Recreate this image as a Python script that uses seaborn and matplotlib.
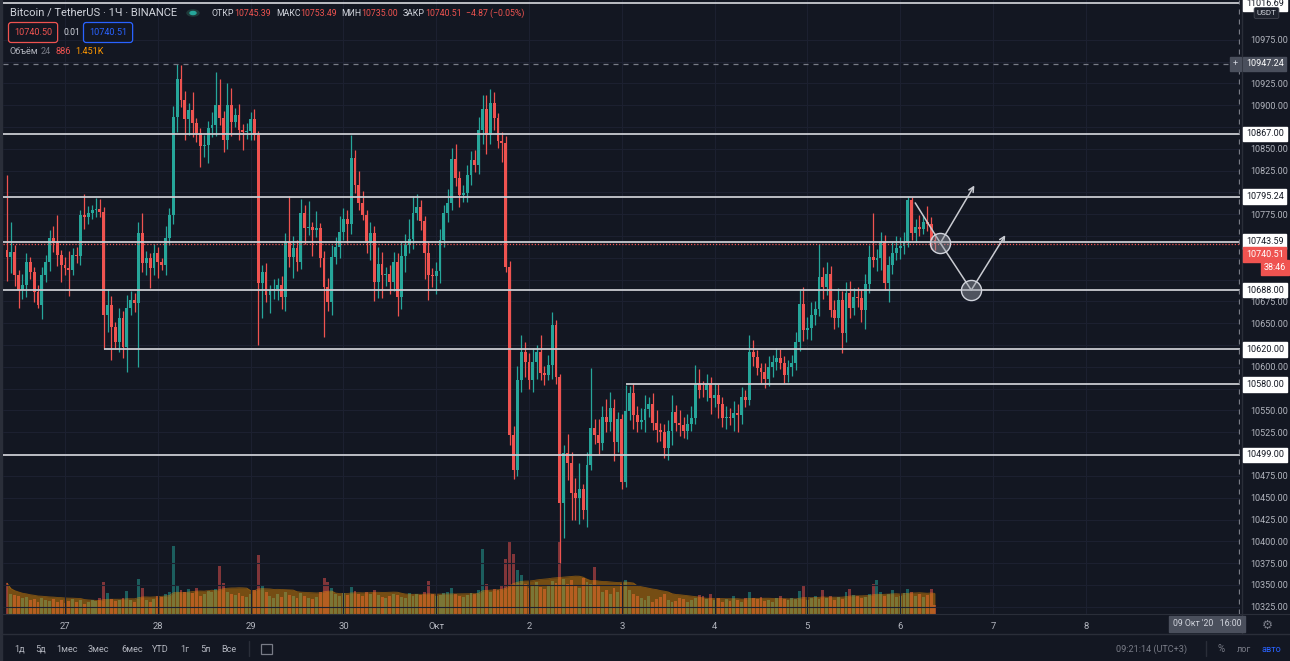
import numpy as np
import pandas as pd
import matplotlib
matplotlib.use('Agg')
import matplotlib.pyplot as plt
import matplotlib.transforms as mtrans
from matplotlib.patches import Rectangle
import seaborn as sns

# BTC/USDT 1h candles, first candle 26 Sep 09:00, last 6 Oct 09:00
first_open = 10734
close = [
    10726, 10732, 10705, 10688, 10694, 10720, 10709, 10686, 10671, 10705,
    10720, 10748, 10742, 10728, 10717, 10713, 10711, 10728, 10727, 10774,
    10772, 10776, 10780, 10781, 10778, 10660, 10671, 10646, 10629, 10656,
    10623, 10668, 10677, 10673, 10754, 10719, 10725, 10713, 10731, 10720,
    10717, 10748, 10774, 10887, 10930, 10906, 10884, 10895, 10880, 10868,
    10853, 10854, 10874, 10877, 10900, 10885, 10860, 10900, 10881, 10889,
    10872, 10869, 10870, 10884, 10866, 10696, 10709, 10682, 10688, 10689,
    10694, 10680, 10743, 10726, 10736, 10720, 10776, 10759, 10760, 10757,
    10759, 10725, 10692, 10674, 10726, 10737, 10755, 10770, 10764, 10840,
    10809, 10788, 10774, 10742, 10754, 10697, 10718, 10705, 10707, 10697,
    10720, 10680, 10727, 10740, 10747, 10776, 10783, 10767, 10731, 10705,
    10704, 10710, 10746, 10776, 10788, 10838, 10817, 10797, 10799, 10820,
    10837, 10831, 10872, 10896, 10866, 10903, 10885, 10859, 10857, 10715,
    10522, 10482, 10585, 10617, 10606, 10585, 10606, 10617, 10593, 10591,
    10602, 10648, 10588, 10444, 10501, 10490, 10455, 10450, 10460, 10436,
    10488, 10530, 10522, 10513, 10543, 10537, 10553, 10514, 10540, 10468,
    10549, 10570, 10545, 10537, 10539, 10552, 10558, 10536, 10528, 10525,
    10507, 10527, 10548, 10536, 10533, 10527, 10534, 10541, 10580, 10574,
    10573, 10580, 10564, 10568, 10557, 10541, 10543, 10541, 10547, 10545,
    10565, 10562, 10617, 10611, 10599, 10594, 10586, 10600, 10606, 10610,
    10604, 10591, 10600, 10604, 10628, 10672, 10642, 10645, 10660, 10666,
    10703, 10692, 10706, 10665, 10656, 10677, 10639, 10685, 10668, 10680,
    10679, 10665, 10695, 10726, 10722, 10725, 10743, 10696, 10717, 10731,
    10736, 10739, 10743, 10791, 10753, 10760, 10758, 10766, 10764, 10745.39,
    10740.51]
# wick length above / below the body, USD
wick_up = [
    86, 34, 8, 6, 12, 10, 6, 5, 8, 10, 8, 9, 14, 32, 6, 9, 20, 8, 10, 6,
    24, 8, 6, 13, 11, 5, 18, 10, 6, 12, 8, 14, 10, 8, 12, 22, 8, 6, 10, 6,
    5, 14, 8, 12, 17, 16, 10, 8, 20, 5, 6, 12, 8, 15, 38, 30, 8, 25, 20, 8,
    12, 6, 10, 8, 12, 4, 8, 10, 6, 12, 8, 10, 10, 53, 14, 10, 16, 10, 30, 6,
    20, 6, 8, 10, 14, 12, 18, 12, 10, 26, 9, 16, 14, 6, 12, 8, 20, 14, 8, 10,
    12, 10, 16, 12, 22, 20, 15, 8, 6, 12, 8, 10, 12, 10, 16, 13, 18, 8, 10, 12,
    10, 12, 14, 16, 16, 16, 12, 6, 10, 8, 6, 10, 16, 20, 12, 10, 16, 8, 20, 8,
    12, 15, 6, 4, 10, 22, 12, 18, 30, 6, 14, 69, 10, 18, 12, 20, 18, 10, 8, 6,
    30, 8, 12, 10, 14, 16, 8, 12, 14, 8, 10, 12, 20, 8, 14, 10, 12, 14, 22, 18,
    10, 12, 8, 14, 12, 8, 12, 10, 14, 10, 12, 8, 20, 14, 8, 6, 10, 12, 8, 12,
    10, 8, 8, 10, 12, 16, 20, 12, 14, 10, 38, 12, 14, 10, 12, 14, 10, 12, 14, 10,
    12, 10, 12, 14, 50, 10, 12, 8, 10, 12, 14, 10, 12, 4, 4, 10, 14, 8, 18, 8,
    8]
wick_dn = [
    27, 18, 12, 20, 10, 14, 8, 12, 4, 16, 8, 10, 10, 12, 20, 8, 30, 6, 8, 10,
    14, 8, 6, 8, 6, 40, 20, 38, 8, 12, 13, 29, 8, 10, 73, 10, 14, 22, 8, 18,
    6, 12, 8, 10, 18, 8, 24, 18, 16, 10, 24, 12, 20, 10, 12, 8, 14, 10, 16, 6,
    12, 20, 8, 10, 6, 71, 40, 8, 20, 10, 12, 14, 16, 12, 24, 10, 8, 18, 8, 30,
    8, 10, 58, 10, 14, 8, 12, 10, 22, 12, 10, 8, 6, 12, 20, 22, 18, 26, 12, 14,
    10, 22, 14, 18, 10, 12, 8, 10, 30, 28, 12, 20, 14, 8, 10, 8, 10, 14, 8, 10,
    12, 8, 10, 16, 22, 10, 14, 8, 22, 6, 12, 10, 7, 14, 18, 10, 14, 20, 8, 12,
    6, 16, 8, 69, 40, 20, 30, 26, 30, 10, 20, 6, 10, 14, 8, 12, 10, 22, 12, 8,
    6, 10, 16, 12, 8, 14, 10, 8, 14, 10, 11, 14, 16, 10, 12, 8, 10, 8, 6, 10,
    8, 12, 18, 10, 16, 10, 12, 8, 14, 20, 10, 8, 6, 10, 8, 12, 10, 8, 12, 10,
    6, 10, 8, 10, 8, 10, 12, 10, 14, 12, 8, 14, 10, 8, 12, 10, 23, 10, 12, 8,
    10, 14, 22, 10, 8, 12, 14, 8, 22, 10, 8, 12, 10, 6, 8, 10, 8, 6, 8, 10,
    6]
volume = [
    3100, 2000, 1900, 1800, 1600, 1700, 1400, 1500, 1200, 1600, 1400, 1300, 1500, 1200, 1400, 1100,
    1300, 1500, 1200, 1400, 1000, 1200, 1400, 1300, 1600, 3200, 2100, 1500, 1300, 1400, 1600, 2300,
    1400, 1200, 3500, 2600, 1400, 1200, 1500, 1800, 1700, 2000, 2200, 6800, 2800, 2400, 2200, 2500,
    2100, 2600, 1800, 2000, 2300, 2200, 2500, 4800, 3100, 2200, 2000, 1900, 2100, 1800, 1700, 2000,
    2400, 5900, 2800, 2200, 1800, 1600, 2000, 1700, 2200, 1900, 1800, 1600, 2100, 1800, 1600, 1500,
    1700, 2200, 3600, 3200, 2600, 2000, 1800, 2100, 1900, 2700, 2300, 2000, 1800, 2200, 2000, 2400,
    1900, 1700, 1600, 1800, 2000, 1900, 1700, 1600, 2100, 1800, 2000, 1900, 2200, 3300, 2000, 1800,
    1900, 2100, 2200, 2600, 2000, 1800, 1700, 1900, 2100, 2000, 2400, 6500, 3000, 2200, 2500, 2400,
    2800, 5500, 7200, 6000, 4400, 3900, 3000, 2600, 2800, 3200, 2700, 2500, 2900, 3300, 3100, 7200,
    3500, 3000, 3400, 2800, 2600, 3600, 3200, 3000, 4700, 2800, 2200, 2400, 2000, 2600, 2200, 3000,
    3400, 2400, 2000, 1800, 1600, 1400, 1800, 1200, 1500, 1700, 2000, 1400, 1200, 1300, 1600, 1500,
    1200, 1400, 1600, 1900, 1800, 1500, 2000, 1400, 1600, 1200, 1500, 1300, 1800, 1400, 1200, 1600,
    2200, 1600, 1500, 1700, 1300, 1400, 1200, 1600, 1800, 1500, 1400, 1600, 1500, 2300, 2800, 1400,
    1600, 1800, 1500, 2400, 1600, 1800, 1400, 1700, 1500, 2200, 2500, 1900, 1800, 1600, 1700, 2000,
    3000, 3400, 2200, 1800, 2000, 2400, 1700, 1800, 2100, 2500, 2200, 1800, 2000, 1700, 1900, 2500,
    886]

day_ticks = [0, 24, 48, 72, 96, 120, 144, 168, 192, 216, 240, 264]
day_labels = ['27', '28', '29', '30', 'Окт', '2', '3', '4', '5', '6', '7', '8']
levels = [10867.00, 10795.24, 10743.59, 10688.00, 10499.00]
partial_levels = [10620.00, 10580.00]
partial_from = [10, 145]            # hour where these lines start
crosshair_price = 10947.24
crosshair_hour = 303.7
top_level = 11016.69
last_price = 10740.51
# hand drawn path: start, circle 1, arrow 1 end, circle 2, arrow 2 end
draw_t = [219.9, 226.4, 235.2, 234.4, 243.2]
draw_p = [10788, 10742, 10808, 10688, 10751]

W, H = 1290, 661
BG = '#131722'
UP, DN = '#26a69a', '#ef5350'
TXT = '#b2b5be'

sns.set_theme(style='dark', rc={'axes.facecolor': BG, 'figure.facecolor': BG})
plt.rcParams['font.family'] = ['Roboto', 'DejaVu Sans']

close = np.array(close, dtype=float)
opn = np.r_[first_open, close[:-1]]
hrs = np.arange(len(close)) - 15
hi = np.maximum(opn, close) + np.array(wick_up)
lo = np.minimum(opn, close) - np.array(wick_dn)
rising = close >= opn
cols = np.where(rising, UP, DN)

fig = plt.figure(figsize=(W / 100, H / 100), dpi=100)
ax = fig.add_axes([3 / W, 47 / H, 1237 / W, 614 / H])
axv = ax.twinx()
ax.set_zorder(2)
ax.patch.set_visible(False)
axv.set_zorder(1)

# volume + MA area
vcols = [(38/255, 166/255, 154/255, 0.5) if r else (239/255, 83/255, 80/255, 0.5) for r in rising]
axv.bar(hrs, volume, width=0.75, color=vcols, linewidth=0)
vol_ma = pd.Series(volume, dtype=float).rolling(20, min_periods=1).mean()
axv.fill_between(hrs, 0, vol_ma, color=(1.0, 0.6, 0.0, 0.42), linewidth=0)
sns.lineplot(x=hrs, y=vol_ma.values, ax=axv, color=(1.0, 0.6, 0.0, 0.45), lw=0.6)
axv.set_ylim(0, 61400)
axv.set_yticks([])
axv.set_ylabel('')
for s in axv.spines.values():
    s.set_visible(False)

# candles
ax.vlines(hrs, lo, hi, colors=cols, lw=0.9, zorder=3)
ax.bar(hrs, np.maximum(np.abs(close - opn), 0.9), bottom=np.minimum(opn, close),
       width=0.74, color=cols, linewidth=0, zorder=4)

# levels
for lv in levels:
    ax.axhline(lv, color='#c9cbd1', lw=1.3, zorder=5)
for lv, h0 in zip(partial_levels, partial_from):
    ax.hlines(lv, h0, 400, color='#c9cbd1', lw=1.3, zorder=5)
ax.axhline(top_level, color='#c9cbd1', lw=1.3, zorder=5)
ax.axhline(crosshair_price, color='#787b86', lw=0.9, ls=(0, (4, 4)), zorder=5)
ax.axvline(crosshair_hour, color='#787b86', lw=0.9, ls=(0, (4, 4)), zorder=5)
ax.axhline(last_price, color=DN, lw=0.9, ls=(0, (1, 1.5)), zorder=5)

# drawing
lc = '#c9cbd1'
ax.plot(draw_t[:2], draw_p[:2], color=lc, lw=1.1, zorder=6)
ax.plot([draw_t[1], draw_t[3]], [draw_p[1], draw_p[3]], color=lc, lw=1.1, zorder=6)
for a, b in [(1, 2), (3, 4)]:
    ax.annotate('', xy=(draw_t[b], draw_p[b]), xytext=(draw_t[a], draw_p[a]),
                arrowprops=dict(arrowstyle='->', color=lc, lw=1.1, shrinkA=0, shrinkB=0,
                                mutation_scale=9), zorder=6)
ax.scatter([draw_t[1], draw_t[3]], [draw_p[1], draw_p[3]], s=210,
           facecolor=(0.6, 0.62, 0.66, 0.45), edgecolor='#d1d4dc', lw=1, zorder=7)

ax.set_xlim(-16.04, 303.9)
ax.set_ylim(10316.7, 11020.6)
ax.set_xticks(day_ticks)
ax.set_xticklabels(day_labels)
ax.yaxis.tick_right()

# tags on the price scale
tag_vals = levels + partial_levels + [top_level, crosshair_price, last_price - 9]
yt = np.arange(10325, 11000, 25)
ax.set_yticks(yt)
# labels hidden where a tag covers them
px_per_usd = 614 / (11020.6 - 10316.7)
ax.set_yticklabels(['' if min(abs(v - t) for t in tag_vals) * px_per_usd < 11 else f'{v:.2f}'
                    for v in yt])
ax.tick_params(axis='y', length=0, pad=7.5, labelsize=6.5, labelcolor=TXT)
ax.tick_params(axis='x', length=0, pad=5.5, labelsize=6.8, labelcolor=TXT)
ax.grid(True, color='#1c2030', lw=0.8)
for s in ax.spines.values():
    s.set_visible(False)

ytr = mtrans.blended_transform_factory(fig.transFigure, ax.transData)


def tag(val, txt, fc, tc, dy=0, x=1246, ha='left', fs=6.5, z=10):
    tr = mtrans.offset_copy(ytr, fig=fig, x=0, y=dy, units='dots')
    fig.text(x / W, val, txt, transform=tr, ha=ha, va='center', fontsize=fs, color=tc,
             bbox=dict(boxstyle='square,pad=0.3', fc=fc, ec=fc), zorder=z)


for lv in levels + partial_levels:
    tag(lv, f'{lv:.2f}', '#ffffff', '#131722')
tag(top_level, f'{top_level:.2f}', '#ffffff', '#131722')
tag(crosshair_price, f'{crosshair_price:.2f}', '#4a4f5c', '#ffffff')
tag(crosshair_price, '+', '#4a4f5c', '#d1d4dc', x=1233, fs=6.5)
tag(last_price, f'{last_price:.2f}', DN, '#ffffff', dy=-10)
tag(last_price, '38:46', DN, '#ffffff', dy=-23, x=1286, ha='right')

# frame lines
fig.add_artist(plt.Line2D([1242 / W] * 2, [27 / H, 1], color='#2a2e39', lw=1))
fig.add_artist(plt.Line2D([0, 1], [27 / H] * 2, color='#2a2e39', lw=1))
fig.add_artist(plt.Line2D([0, 1], [47 / H] * 2, color='#2a2e39', lw=0.8))
fig.add_artist(Rectangle((0, 0), 2 / W, 1, transform=fig.transFigure, color='#2a2e39'))


def px(x, y):
    return x / W, 1 - y / H


# header
fig.text(*px(10, 13), 'Bitcoin / TetherUS · 1Ч · BINANCE', fontsize=8, color='#d1d4dc', va='center')
fig.add_artist(plt.Circle(px(193, 13), 6 / W, transform=fig.transFigure, color='#1f3a3a'))
fig.add_artist(plt.Circle(px(193, 13), 3 / W, transform=fig.transFigure, color=UP))
ohlc = [(211, 'ОТКР', '#d1d4dc'), (234, '10745.39', DN), (276, 'МАКС', '#d1d4dc'),
        (300, '10753.49', DN), (341, 'МИН', '#d1d4dc'), (361, '10735.00', DN),
        (403, 'ЗАКР', '#d1d4dc'), (425, '10740.51', DN), (466, '−4.87 (−0.05%)', DN)]
for x, s, c in ohlc:
    fig.text(*px(x, 13.5), s, fontsize=6.3, color=c, va='center')
fig.text(*px(14, 32.5), '10740.50', fontsize=6.6, color=DN, va='center',
         bbox=dict(boxstyle='round,pad=0.6,rounding_size=0.3', fc=BG, ec=DN, lw=0.9))
fig.text(*px(63, 32.5), '0.01', fontsize=6.2, color='#d1d4dc', va='center')
fig.text(*px(89, 32.5), '10740.51', fontsize=6.6, color='#2962ff', va='center',
         bbox=dict(boxstyle='round,pad=0.6,rounding_size=0.3', fc=BG, ec='#2962ff', lw=0.9))
fig.text(*px(10, 52), 'Объём', fontsize=6.6, color=TXT, va='center')
fig.text(*px(40.5, 52), '24', fontsize=6.6, color='#787b86', va='center')
fig.text(*px(56, 52), '886', fontsize=6.6, color=DN, va='center')
fig.text(*px(75, 52), '1.451K', fontsize=6.6, color='#ff9800', va='center')
fig.text(*px(1266.5, 13), 'USDT', fontsize=5.8, color='#d1d4dc', va='center', ha='center', zorder=12,
         bbox=dict(boxstyle='round,pad=0.3,rounding_size=0.2', fc='#1e222d', ec='#434651', lw=0.6))

# bottom bar
fig.text(*px(1173, 624), "09 Окт '20   16:00", fontsize=6.3, color='#d1d4dc', va='center',
         bbox=dict(boxstyle='square,pad=0.45', fc='#4a4f5c', ec='#4a4f5c'))
fig.text(*px(1267, 625), '⚙', family=['DejaVu Sans'], fontsize=9, color='#787b86', va='center', ha='center')
for x, s in [(14.5, '1д'), (35, '5д'), (56, '1мес'), (88, '3мес'), (121, '6мес'),
             (152, 'YTD'), (180, '1г'), (200, '5л'), (221, 'Все')]:
    fig.text(*px(x, 649), s, fontsize=6.6, color=TXT, va='center')
fig.add_artist(plt.Line2D([249 / W] * 2, [1 - 641 / H, 1 - 656 / H], color='#2a2e39', lw=1))
fig.add_artist(Rectangle(px(261, 654), 11 / W, 10 / H, transform=fig.transFigure,
                         fill=False, ec='#787b86', lw=0.9))
fig.text(*px(1116, 649), '09:21:14 (UTC+3)', fontsize=6.6, color='#787b86', va='center')
fig.add_artist(plt.Line2D([1206 / W] * 2, [1 - 641 / H, 1 - 656 / H], color='#2a2e39', lw=1))
fig.text(*px(1218, 649), '%', fontsize=7, color='#787b86', va='center')
fig.text(*px(1237, 649), 'лог', fontsize=6.6, color='#787b86', va='center')
fig.text(*px(1262, 649), 'авто', fontsize=6.6, color='#2962ff', va='center')

fig.savefig('out.png', dpi=100, facecolor=BG)
